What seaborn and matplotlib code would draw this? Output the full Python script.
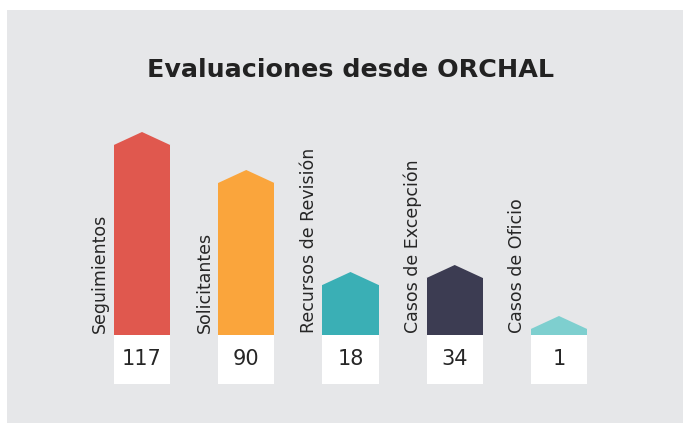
import matplotlib
matplotlib.use('Agg')
import matplotlib.pyplot as plt
import seaborn as sns
import pandas as pd
from matplotlib.patches import Polygon

categories = ['Seguimientos', 'Solicitantes', 'Recursos de Revisión', 'Casos de Excepción', 'Casos de Oficio']
values = [117, 90, 18, 34, 1]
# drawn heights of the bars (the infographic does not scale them to the values)
bar_heights = [190, 152, 50, 57, 6]
colors = ['#E0584E', '#FAA53C', '#3AAFB5', '#3C3C52', '#7ECFCF']

df = pd.DataFrame({'categoria': categories, 'altura': bar_heights, 'valor': values})

sns.set_theme(style='white')
plt.rcParams['font.family'] = ['DejaVu Sans']

fig = plt.figure(figsize=(6.83, 4.23), dpi=100)
fig.patch.set_facecolor('white')
ax = fig.add_axes([7 / 683, 0, 676 / 683, 413 / 423])
ax.set_facecolor('#E6E7E9')

sns.barplot(data=df, x='categoria', y='altura', hue='categoria', palette=colors,
            width=0.54, saturation=1, linewidth=0, legend=False, ax=ax)

roof = 13
box_depth = 49
text_color = '#262626'

# pointed tops, white value boxes and labels
for i, p in enumerate(ax.patches[:len(categories)]):
    x0 = p.get_x()
    w = p.get_width()
    h = p.get_height()
    ax.add_patch(Polygon([(x0, h), (x0 + w / 2, h + roof), (x0 + w, h)],
                         closed=True, color=p.get_facecolor(), lw=0))
    ax.bar(x0 + w / 2, -box_depth, width=w, color='white', linewidth=0)
    ax.text(x0 + w / 2, -30, str(df['valor'][i]), ha='center', va='baseline',
            fontsize=15, color=text_color)
    ax.text(x0 - 0.045, 2, df['categoria'][i], rotation=90, ha='right', va='bottom',
            fontsize=12.5, color=text_color)

ax.set_xlim(-1.295, 5.19)
ax.set_ylim(-88, 325)
ax.set_xticks([])
ax.set_yticks([])
ax.set_xlabel('')
ax.set_ylabel('')
for s in ax.spines.values():
    s.set_visible(False)

fig.text(350.5 / 683, 1 - 77 / 423, 'Evaluaciones desde ORCHAL', ha='center', va='baseline',
         fontsize=18.3, fontweight='bold', color='#222222')

fig.savefig('out.png', dpi=100)
